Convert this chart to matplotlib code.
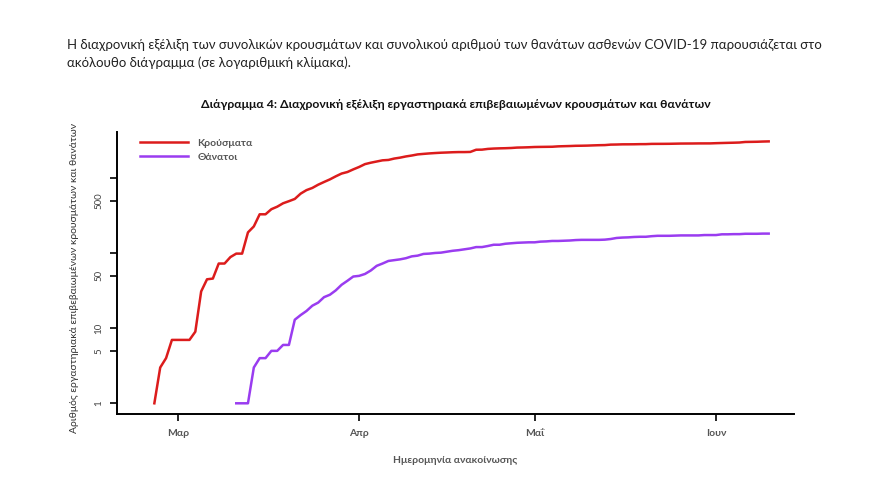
import matplotlib
matplotlib.use('Agg')
import matplotlib.pyplot as plt
import pandas as pd

plt.rcParams['font.family'] = ['Lato', 'DejaVu Sans']

# cumulative confirmed cases, daily from 26 Feb 2020
cases = [1, 3, 4, 7,
         7, 7, 7, 9, 31, 45, 46, 73, 73, 89, 99, 99, 190, 228, 331, 331,
         387, 418, 464, 495, 530, 624, 695, 743, 821, 892, 966, 1061, 1156, 1212, 1314,
         1415, 1544, 1613, 1673, 1735, 1755, 1832, 1884, 1955, 2011, 2081, 2114, 2145, 2170, 2192,
         2207, 2224, 2235, 2235, 2245, 2401, 2408, 2463, 2490, 2506, 2517, 2534, 2566, 2576, 2591,
         2612, 2620, 2626, 2632, 2663, 2678, 2691, 2710, 2716, 2726, 2744, 2760, 2770, 2810, 2819,
         2834, 2836, 2840, 2850, 2853, 2874, 2876, 2878, 2882, 2892, 2903, 2906, 2909, 2915, 2917, 2918,
         2937, 2952, 2967, 2980, 2997, 3049, 3058, 3068, 3088, 3102]
cases_dates = pd.date_range('2020-02-26', periods=len(cases), freq='D')

# cumulative deaths, daily from 11 Mar 2020
deaths = [1, 1, 1, 3, 4, 4, 5, 5, 6, 6, 13, 15, 17, 20, 22, 26, 28, 32, 38, 43, 49,
          50, 53, 59, 68, 73, 79, 81, 83, 86, 91, 93, 98, 99, 101, 102, 105, 108, 110, 113, 116,
          121, 121, 125, 130, 130, 134, 136, 138, 139, 140,
          140, 143, 144, 146, 146, 147, 148, 150, 151, 151, 151, 151, 152, 155, 160, 162, 163, 165, 166, 166,
          169, 171, 171, 171, 172, 173, 173, 173, 173, 175, 175,
          175, 179, 179, 180, 180, 182, 182, 182, 183, 183]
deaths_dates = pd.date_range('2020-03-11', periods=len(deaths), freq='D')

yticks = [1, 5, 10, 50, 100, 500, 1000]
ytick_labels = ['1', '5', '10', '50', '', '500', '']
xticks = pd.to_datetime(['2020-03-01', '2020-04-01', '2020-05-01', '2020-06-01'])
xtick_labels = ['Μαρ', 'Απρ', 'Μαΐ', 'Ιουν']

red = '#dc1c1c'
purple = '#9a3cf0'

fig = plt.figure(figsize=(8.8, 4.8), dpi=100)
ax = fig.add_axes([0.1333, 0.1375, 0.769, 0.588])

ax.plot(cases_dates, cases, color=red, lw=1.8, label='Κρούσματα')
ax.plot(deaths_dates, deaths, color=purple, lw=1.8, label='Θάνατοι')

ax.set_yscale('log')
ax.set_ylim(0.72, 4170)
ax.set_xlim(pd.Timestamp('2020-02-19 16:00'), pd.Timestamp('2020-06-14 08:00'))

ax.set_yticks(yticks)
ax.set_yticklabels(ytick_labels, rotation=90, va='center', fontsize=7, color='#444444')
ax.yaxis.set_minor_locator(matplotlib.ticker.NullLocator())
ax.set_xticks(xticks)
ax.set_xticklabels(xtick_labels, fontsize=7.5, color='#555555', fontweight='bold')
ax.tick_params(axis='both', length=5, width=1.2, direction='out', pad=5)
ax.tick_params(axis='x', pad=6)

for s in ['top', 'right']:
    ax.spines[s].set_visible(False)
for s in ['left', 'bottom']:
    ax.spines[s].set_linewidth(1.4)

leg = ax.legend(loc='upper left', bbox_to_anchor=(0.0335, 0.975), frameon=False,
                fontsize=7.5, handlelength=4.6, handletextpad=0.9, labelspacing=0.45,
                borderpad=0, borderaxespad=0)
for t in leg.get_texts():
    t.set_color('#555555')
    t.set_fontweight('bold')

fig.text(0.517, 0.040, 'Ημερομηνία ανακοίνωσης', ha='center', va='center', fontsize=7.5,
         color='#555555', fontweight='bold')
fig.text(0.085, 0.42, 'Αριθμός εργαστηριακά επιβεβαιωμένων κρουσμάτων και θανάτων',
         rotation=90, ha='center', va='center', fontsize=7.5, color='#333333')

fig.text(0.518, 0.783, 'Διάγραμμα 4: Διαχρονική εξέλιξη εργαστηριακά επιβεβαιωμένων κρουσμάτων και θανάτων',
         ha='center', va='center', fontsize=8.8, fontweight='bold', color='#111111')

fig.text(0.076, 0.906, 'Η διαχρονική εξέλιξη των συνολικών κρουσμάτων και συνολικού αριθμού των θανάτων '
         'ασθενών COVID-19 παρουσιάζεται στο', ha='left', va='center', fontsize=9.5, color='#222222')
fig.text(0.076, 0.869, 'ακόλουθο διάγραμμα (σε λογαριθμική κλίμακα).', ha='left', va='center',
         fontsize=9.5, color='#222222')

fig.savefig('out.png', dpi=100)
